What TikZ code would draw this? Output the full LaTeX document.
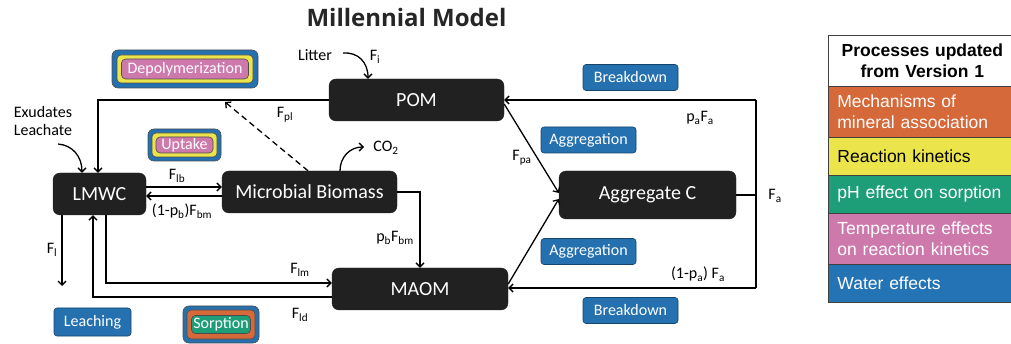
\documentclass[tikz,border=0pt]{standalone}
\usepackage{fontspec}
\setmainfont{Carlito}
\newfontfamily\arialf{Liberation Sans}
\newfontfamily\titlef{Open Sans}
\usetikzlibrary{arrows.meta,calc}
\definecolor{boxdark}{HTML}{212121}
\definecolor{wblue}{HTML}{2571B0}
\definecolor{lorange}{HTML}{D5693A}
\definecolor{lyellow}{HTML}{EBE54B}
\definecolor{lgreen}{HTML}{1E9E78}
\definecolor{lpink}{HTML}{CD79AC}
\definecolor{lblue}{HTML}{2473B4}
\tikzset{
  comp/.style={fill=boxdark, draw=boxdark, rounded corners=7pt, text=white, font=\fontsize{20}{22}\selectfont, inner sep=0pt},
  proc/.style={fill=wblue, draw=wblue!60!black, line width=0.6pt, rounded corners=3pt, text=white, font=\fontsize{16}{18}\selectfont, inner sep=0pt, minimum width=95, minimum height=26},
  ring/.style={rounded corners=4pt, draw=black!70, line width=0.6pt, inner sep=0pt},
  lab/.style={font=\fontsize{16}{18}\selectfont, inner sep=0pt},
  flow/.style={line width=1.3pt, -{Straight Barb[length=4pt,width=8pt]}},
  plain/.style={line width=1.3pt},
  legrow/.style={draw=black!75, line width=0.8pt, anchor=north west, inner xsep=9pt, inner ysep=0pt, text width=170pt, align=left, font=\arialf\fontsize{17.5}{21}\selectfont}
}
\begin{document}
\begin{tikzpicture}[x=1pt,y=-1pt]
\useasboundingbox (0,0) rectangle (1011,344);
\clip (0,0) rectangle (1011,344);

% title
\node[font=\titlef\bfseries\fontsize{24}{26}\selectfont, text=black!85, inner sep=0pt, anchor=base] (title) at (406.5,27) {Millennial Model};

% compartments
\node[comp, minimum width=175, minimum height=42] (pom) at (416.5,100) {POM};
\node[comp, minimum width=93, minimum height=42] (lmwc) at (99.5,194) {LMWC};
\node[comp, minimum width=175, minimum height=42] (mb) at (309.5,192) {Microbial Biomass};
\node[comp, minimum width=176, minimum height=42] (maom) at (420,289) {MAOM};
\node[comp, minimum width=177, minimum height=48] (agg) at (647.5,195) {Aggregate C};

% process boxes
\node[proc] (bd1) at (630.5,77.5) {Breakdown};
\node[proc] (ag1) at (588.5,140) {Aggregation};
\node[proc] (ag2) at (588.5,251.5) {Aggregation};
\node[proc] (bd2) at (630.5,310.5) {Breakdown};
\node[proc, minimum width=77, minimum height=28] (leach) at (92.5,322) {Leaching};

% nested boxes
\node[ring, fill=wblue, minimum width=146, minimum height=38, rounded corners=6pt] (depA) at (185,69) {};
\node[ring, fill=lyellow, minimum width=136, minimum height=28] (depB) at (185,69) {};
\node[ring, fill=lpink, minimum width=127, minimum height=20, text=white, font=\fontsize{16}{18}\selectfont] (dep) at (185,69) {Depolymerization};

\node[ring, fill=wblue, minimum width=73, minimum height=32, rounded corners=6pt] (upA) at (184.5,145) {};
\node[ring, fill=lyellow, minimum width=65, minimum height=24] (upB) at (184.5,145) {};
\node[ring, fill=lpink, minimum width=57, minimum height=16, text=white, font=\fontsize{16}{18}\selectfont] (up) at (184.5,145) {Uptake};

\node[ring, fill=wblue, minimum width=76, minimum height=37, rounded corners=6pt] (soA) at (221,324.5) {};
\node[ring, fill=lorange, minimum width=68, minimum height=29] (soB) at (221,324.5) {};
\node[ring, fill=lgreen, minimum width=59, minimum height=18, text=white, font=\fontsize{16}{18}\selectfont] (so) at (221,324.5) {Sorption};

% labels
\node[lab] (litter) at (315,55) {Litter};
\node[lab] (fi) at (375,57) {F\textsubscript{i}};
\node[lab, align=left] (exud) at (43,121) {Exudates\\Leachate};
\node[lab] (fpl) at (285,115) {F\textsubscript{pl}};
\node[lab] (flb) at (177,176) {F\textsubscript{lb}};
\node[lab] (fbm) at (182,211) {(1-p\textsubscript{b})F\textsubscript{bm}};
\node[lab] (co2) at (386,148) {CO\textsubscript{2}};
\node[lab] (fpa) at (522,158) {F\textsubscript{pa}};
\node[lab] (pbfbm) at (395,238) {p\textsubscript{b}F\textsubscript{bm}};
\node[lab] (flm) at (300,270) {F\textsubscript{lm}};
\node[lab] (fld) at (300,315) {F\textsubscript{ld}};
\node[lab] (fl) at (52,250) {F\textsubscript{l}};
\node[lab] (pafa) at (700,118) {p\textsubscript{a}F\textsubscript{a}};
\node[lab] (fa) at (775,196) {F\textsubscript{a}};
\node[lab] (onepa) at (698,274) {(1-p\textsubscript{a}) F\textsubscript{a}};

% coordinates
\coordinate (litstart) at (343,53);
\coordinate (exstart) at (58,144);
\coordinate (co2tip) at (364,147);
\coordinate (dashtip) at (225,102);
\coordinate (leachtip) at (62,286);
\coordinate (jtop) at (756,100);
\coordinate (jmid) at (756,195);
\coordinate (jbot) at (756,288);

% connectors
\draw[flow] (litstart) .. controls (358,52) and (368,62) .. (pom.north -| 368,0);
\draw[flow] (exstart) .. controls (72,145) and (82,156) .. (lmwc.north -| 82,0);
\draw[flow] (mb.north -| 340,0) .. controls (340,157) and (350,147) .. (co2tip);
\draw[flow] (pom.west) -| (lmwc.north -| 98,0);
\draw[flow, dashed, dash pattern=on 6pt off 4pt] (mb.north -| 308,0) -- (dashtip);
\draw[flow] (lmwc.east |- 0,187) -- (mb.west |- 0,187);
\draw[flow] (mb.west |- 0,196) -- (lmwc.east |- 0,196);
\draw[flow] (mb.east) -| (maom.north);
\draw[flow] (lmwc.south -| 62,0) -- (leachtip);
\draw[flow] (lmwc.south -| 106,0) |- (maom.west |- 0,283);
\draw[flow] (maom.west |- 0,297) -| (lmwc.south -| 93,0);
\draw[plain] (agg.east) -- (jmid);
\draw[plain] (jtop) -- (jbot);
\draw[flow] (jtop) -- (pom.east);
\draw[flow] (jbot) -- (maom.east |- 0,288);
\draw[flow] (pom.east |- 0,104) -- (agg.west |- 0,193);
\draw[flow] (maom.east |- 0,284) -- (agg.west |- 0,199);

% legend
\node[legrow, fill=white, minimum height=51, align=center, font=\arialf\bfseries\fontsize{17.5}{21}\selectfont] (lh) at (828,35) {Processes updated\\from Version 1};
\node[legrow, fill=lorange, text=white, minimum height=51] (l1) at (828,86) {Mechanisms of\\mineral association};
\node[legrow, fill=lyellow, text=black, minimum height=38] (l2) at (828,137) {Reaction kinetics};
\node[legrow, fill=lgreen, text=white, minimum height=38] (l3) at (828,175) {pH effect on sorption};
\node[legrow, fill=lpink, text=white, minimum height=51] (l4) at (828,213) {Temperature effects\\on reaction kinetics};
\node[legrow, fill=lblue, text=white, minimum height=38] (l5) at (828,264) {Water effects};
\end{tikzpicture}
\end{document}
